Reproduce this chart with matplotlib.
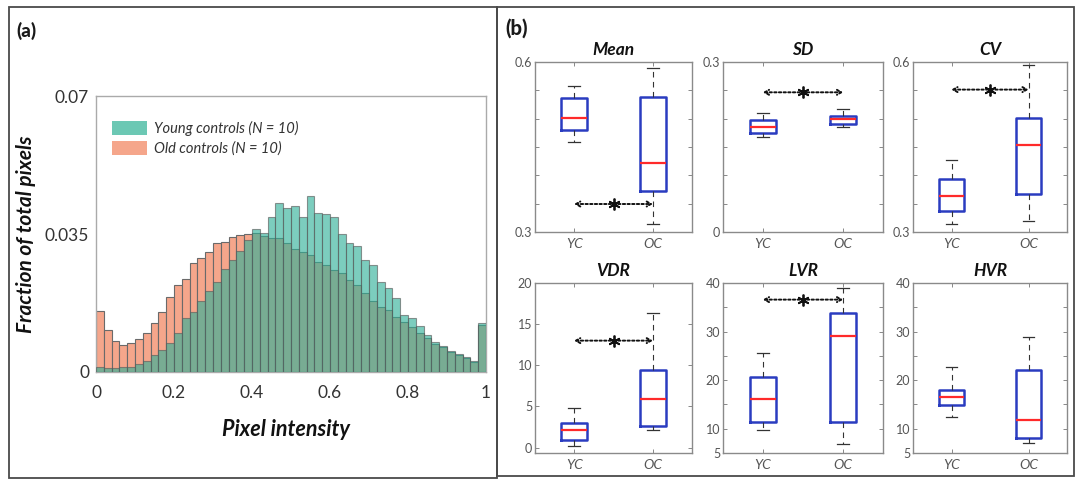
import numpy as np
import matplotlib
matplotlib.use("Agg")
import matplotlib.pyplot as plt
from matplotlib.patches import Rectangle, Patch

plt.rcParams['font.family'] = ['Lato', 'DejaVu Sans']

# ---- panel (a): pixel intensity histograms, 50 bins on [0, 1]
young = [0.0012, 0.0010, 0.0010, 0.0012, 0.0012, 0.0020, 0.0028, 0.0042, 0.0057, 0.0074,
         0.0098, 0.0137, 0.0153, 0.0181, 0.0206, 0.0228, 0.0260, 0.0284, 0.0306, 0.0336,
         0.0362, 0.0353, 0.0393, 0.0429, 0.0415, 0.0420, 0.0392, 0.0447, 0.0402, 0.0400,
         0.0393, 0.0351, 0.0328, 0.0320, 0.0284, 0.0271, 0.0227, 0.0214, 0.0187, 0.0144,
         0.0136, 0.0117, 0.0094, 0.0075, 0.0067, 0.0052, 0.0046, 0.0037, 0.0028, 0.0125]
old = [0.0154, 0.0106, 0.0079, 0.0068, 0.0074, 0.0083, 0.0100, 0.0125, 0.0153, 0.0191,
       0.0220, 0.0235, 0.0277, 0.0289, 0.0305, 0.0326, 0.0330, 0.0342, 0.0347, 0.0350,
       0.0352, 0.0345, 0.0339, 0.0339, 0.0326, 0.0313, 0.0305, 0.0296, 0.0279, 0.0271,
       0.0258, 0.0250, 0.0233, 0.0220, 0.0201, 0.0181, 0.0165, 0.0157, 0.0140, 0.0128,
       0.0115, 0.0098, 0.0085, 0.0072, 0.0064, 0.0050, 0.0044, 0.0035, 0.0026, 0.0120]
bin_edges = np.linspace(0, 1, len(young) + 1)

# ---- panel (b): box plot summaries (whislo, q1, median, q3, whishi)
titles = ['Mean', 'SD', 'CV', 'VDR', 'LVR', 'HVR']
groups = ['YC', 'OC']
yc_stats = [(0.4588, 0.4800, 0.5006, 0.5371, 0.5576),
            (0.1682, 0.1753, 0.1859, 0.1982, 0.2100),
            (0.3149, 0.3374, 0.3642, 0.3939, 0.4277),
            (0.20, 0.89, 2.20, 3.01, 4.80),
            (9.73, 11.44, 16.03, 20.62, 25.62),
            (12.45, 14.82, 16.62, 17.99, 22.73)]
oc_stats = [(0.3147, 0.3729, 0.4224, 0.5382, 0.5900),
            (0.1853, 0.1900, 0.1988, 0.2053, 0.2165),
            (0.3190, 0.3677, 0.4527, 0.5014, 0.5952),
            (2.11, 2.60, 5.89, 9.43, 16.34),
            (6.92, 11.44, 29.11, 33.84, 39.04),
            (7.05, 8.13, 11.80, 22.16, 28.78)]
sig_y = [0.3494, 0.2465, 0.5513, 13.0, 36.58, None]
ylims = [(0.3, 0.6), (0, 0.3), (0.3, 0.6), (-0.65, 20), (5, 40), (5, 40)]
yticks = [[0.3, 0.6], [0, 0.3], [0.3, 0.6], [0, 5, 10, 15, 20],
          [5, 10, 20, 30, 40], [5, 10, 20, 30, 40]]
ytick_labels = [['0.3', '0.6'], ['0', '0.3'], ['0.3', '0.6'], ['0', '5', '10', '15', '20'],
                ['5', '10', '20', '30', '40'], ['5', '10', '20', '30', '40']]
minor_step = [0.05, 0.05, 0.05, 5, 5, 5]

W, H = 1076, 479
fig = plt.figure(figsize=(W / 100, H / 100), dpi=100)


def frac(x0, y0, x1, y1):
    # pixel box (top-left origin) -> figure fraction [l, b, w, h]
    return [x0 / W, 1 - y1 / H, (x1 - x0) / W, (y1 - y0) / H]


# panel frames
for x0, y0, x1, y1 in [(9, 7, 497, 478), (497, 7, 1074, 476)]:
    l, b, w, h = frac(x0, y0, x1, y1)
    fig.add_artist(Rectangle((l, b), w, h, transform=fig.transFigure, fill=False,
                             edgecolor='#4a4a4a', lw=1.3))
fig.text(16 / W, 1 - 31 / H, '(a)', fontsize=13.5, fontweight='black', va='center', color='#1a1a1a')
fig.text(505 / W, 1 - 28 / H, '(b)', fontsize=14.5, fontweight='black', va='center', color='#1a1a1a')

# ---- histogram
ax = fig.add_axes(frac(96, 96, 486, 372))
ax.bar(bin_edges[:-1], old, width=0.02, align='edge', color='#f5a68b',
       edgecolor='#6a6a6a', lw=0.8, zorder=2)
ax.bar(bin_edges[:-1], young, width=0.02, align='edge', color='#30b198', alpha=0.63,
       edgecolor='#5a5a5a', lw=0.8, zorder=3)
ax.set_xlim(0, 1)
ax.set_ylim(0, 0.07)
ax.set_xticks([0, 0.2, 0.4, 0.6, 0.8, 1])
ax.set_xticklabels(['0', '0.2', '0.4', '0.6', '0.8', '1'])
ax.set_yticks([0, 0.035, 0.07])
ax.set_yticklabels(['0', '0.035', '0.07'])
ax.tick_params(labelsize=12.5, colors='#333333', direction='in', length=0, pad=5)
ax.tick_params(axis='x', pad=9)
for s in ax.spines.values():
    s.set_color('#aaaaaa')
    s.set_linewidth(1.0)
ax.set_xlabel('Pixel intensity', fontsize=15.5, fontweight='bold', style='italic', color='#111')
ax.xaxis.set_label_coords(0.488, -0.17)
ax.set_ylabel('Fraction of total pixels', fontsize=15, fontweight='bold', style='italic',
              color='#111')
ax.yaxis.set_label_coords(-0.155, 0.5)
handles = [Patch(facecolor='#6cc8b4', edgecolor='none'),
           Patch(facecolor='#f5a68b', edgecolor='none')]
ax.legend(handles, ['Young controls (N = 10)', 'Old controls (N = 10)'],
          loc='upper left', bbox_to_anchor=(0.04, 0.91), frameon=False,
          prop=dict(size=10.5, style='italic'), labelcolor='#333333',
          handlelength=2.4, handleheight=1.05, handletextpad=0.5,
          labelspacing=0.35, borderaxespad=0, borderpad=0)

# ---- box plots
cols = [(535, 692), (723, 883), (913, 1067)]
rows = [(62, 232), (283, 453)]
for i, name in enumerate(titles):
    x0, x1 = cols[i % 3]
    y0, y1 = rows[i // 3]
    bx = fig.add_axes(frac(x0, y0, x1, y1))
    stats = []
    for g, st in zip(groups, [yc_stats[i], oc_stats[i]]):
        lo, q1, med, q3, hi = st
        stats.append(dict(label=g, whislo=lo, q1=q1, med=med, q3=q3, whishi=hi, fliers=[]))
    bx.bxp(stats, positions=[1, 2], widths=0.33, capwidths=0.15, showfliers=False,
           boxprops=dict(color='#2a3cc0', lw=1.8),
           medianprops=dict(color='#ff2a2a', lw=1.6),
           whiskerprops=dict(color='#333333', lw=0.8, linestyle=(0, (5, 4))),
           capprops=dict(color='#333333', lw=0.9))
    bx.set_xlim(0.5, 2.5)
    bx.set_ylim(*ylims[i])
    bx.set_yticks(yticks[i])
    bx.set_yticklabels(ytick_labels[i])
    lo_l, hi_l = ylims[i]
    minors = np.arange(np.ceil(lo_l / minor_step[i]) * minor_step[i], hi_l + 1e-9, minor_step[i])
    bx.set_yticks(minors, minor=True)
    bx.set_xticks([1, 2])
    bx.set_xticklabels(groups, fontsize=10, style='italic')
    bx.tick_params(axis='both', which='both', direction='in', length=3, width=0.7,
                   color='#888888', labelcolor='#555555', right=True, top=True)
    bx.tick_params(axis='y', labelsize=9, pad=2)
    bx.tick_params(axis='x', pad=4)
    for s in bx.spines.values():
        s.set_color('#8a8a8a')
        s.set_linewidth(1.0)
    bx.set_title(name, fontsize=12.5, fontweight='bold', style='italic', color='#111', pad=5)
    if sig_y[i] is not None:
        bx.annotate('', xy=(2, sig_y[i]), xytext=(1, sig_y[i]),
                    arrowprops=dict(arrowstyle='<->,head_length=0.3,head_width=0.18',
                                    linestyle=(0, (1.2, 1.2)), lw=1.4, color='#111',
                                    shrinkA=0, shrinkB=0))
        bx.plot([1.5], [sig_y[i]], linestyle='none', marker=(6, 2, 0), ms=8.5, mew=1.3,
                color='#111')

fig.savefig('out.png', dpi=100)
